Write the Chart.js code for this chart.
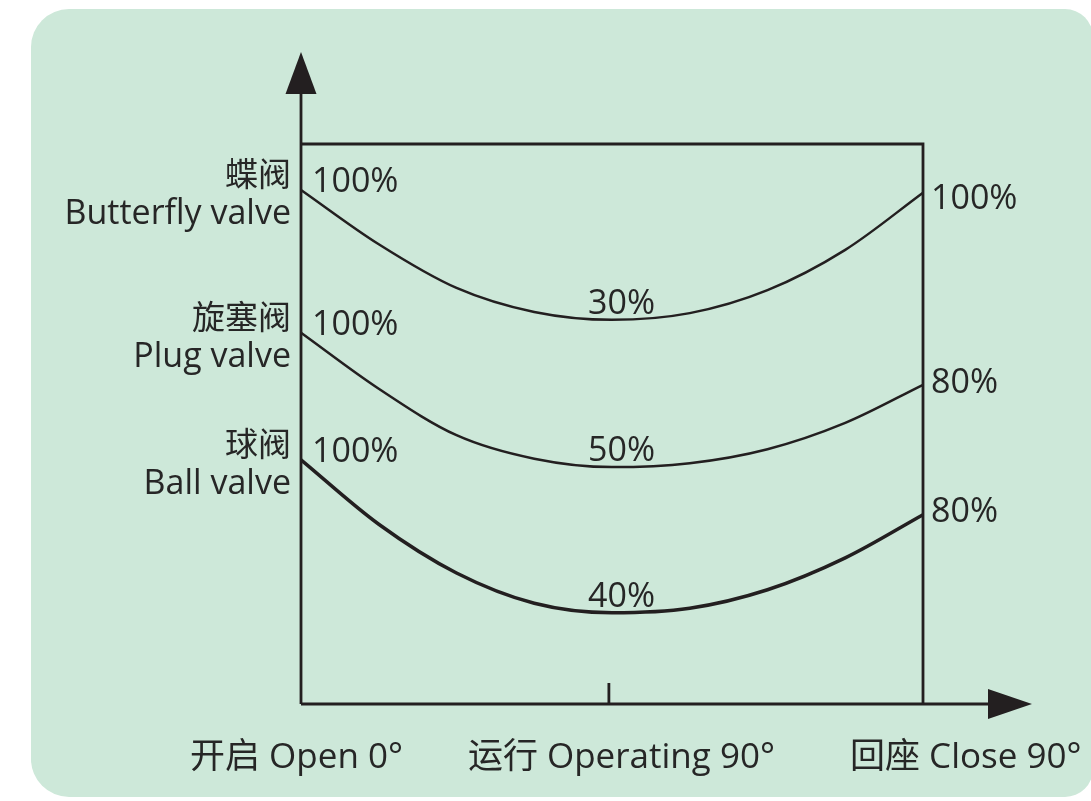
<!DOCTYPE html>
<html>
<head>
<meta charset="utf-8">
<script src="https://cdn.jsdelivr.net/npm/chart.js@4"></script>
<style>
  html, body { margin: 0; padding: 0; background: #ffffff; overflow: hidden; }
  #panel {
    position: absolute; left: 31px; top: 9px; width: 1062px; height: 788px;
    background: #cde8d9; border-radius: 38px 28px 28px 38px;
  }
  #chart { position: absolute; left: 0; top: 0; }
</style>
</head>
<body>
<div id="panel"></div>
<canvas id="chart" width="1091" height="801"></canvas>
<script>
// stroke position, % of travel (open -> close)
const positions = [0, 12.5, 25, 37.5, 50, 62.5, 75, 87.5, 100];

// curve heights (0 = x axis, 100 = top of frame)
const butterfly = [91.8, 82.1, 74.3, 70.0, 68.6, 69.8, 73.9, 81.1, 91.3];
const plug      = [66.3, 56.3, 48.0, 43.8, 42.3, 43.0, 45.5, 50.2, 57.0];
const ball      = [43.6, 32.1, 23.4, 18.0, 16.3, 17.1, 20.4, 26.1, 33.8];

const valveNames = [["蝶阀", "Butterfly valve"], ["旋塞阀", "Plug valve"], ["球阀", "Ball valve"]];
const startLabels = ["100%", "100%", "100%"];
const midLabels = ["30%", "50%", "40%"];
const endLabels = ["100%", "80%", "80%"];
const stageLabels = ["开启 Open 0°", "运行 Operating 90°", "回座 Close 90°"];
const operatingTick = 49.5;

const INK = "#231f20";
const FONT = "'Open Sans', 'Noto Sans CJK SC', sans-serif";
const endLabelDrop = [16, 8, 7];

function toPoints(values) {
    return values.map((v, i) => ({ x: positions[i], y: v }));
}

const frame = {
    id: "frame",
    afterDatasetsDraw(chart) {
        const { ctx, chartArea: a, scales } = chart;
        const x = scales.x, y = scales.y;
        ctx.save();
        ctx.strokeStyle = INK;
        ctx.fillStyle = INK;
        ctx.lineWidth = 2.8;

        // box top + right
        ctx.beginPath();
        ctx.moveTo(a.left, a.top);
        ctx.lineTo(a.right, a.top);
        ctx.lineTo(a.right, a.bottom);
        ctx.stroke();

        // y axis with arrow
        ctx.beginPath();
        ctx.moveTo(a.left, a.bottom);
        ctx.lineTo(a.left, a.top - 50);
        ctx.stroke();
        ctx.beginPath();
        ctx.moveTo(a.left, a.top - 92);
        ctx.lineTo(a.left - 15.5, a.top - 50);
        ctx.lineTo(a.left + 15.5, a.top - 50);
        ctx.closePath();
        ctx.fill();

        // x axis with arrow
        ctx.beginPath();
        ctx.moveTo(a.left, a.bottom);
        ctx.lineTo(a.right + 66, a.bottom);
        ctx.stroke();
        ctx.beginPath();
        ctx.moveTo(a.right + 109, a.bottom);
        ctx.lineTo(a.right + 65, a.bottom - 15);
        ctx.lineTo(a.right + 65, a.bottom + 15);
        ctx.closePath();
        ctx.fill();

        // operating tick
        const tx = x.getPixelForValue(operatingTick);
        ctx.beginPath();
        ctx.moveTo(tx, a.bottom);
        ctx.lineTo(tx, a.bottom - 21);
        ctx.stroke();

        // labels
        const series = [butterfly, plug, ball];
        ctx.fillStyle = "#262626";
        ctx.textBaseline = "alphabetic";
        series.forEach((s, i) => {
            const y0 = y.getPixelForValue(s[0]);
            const yEnd = y.getPixelForValue(s[s.length - 1]);
            const mid = s.indexOf(Math.min(...s));
            const yMid = y.getPixelForValue(s[mid]);

            ctx.textAlign = "right";
            ctx.font = "33px " + FONT;
            ctx.fillText(valveNames[i][0], a.left - 10, y0 - 4);
            ctx.font = "34px " + FONT;
            ctx.fillText(valveNames[i][1], a.left - 10, y0 + 34);

            ctx.textAlign = "left";
            ctx.font = "34px " + FONT;
            ctx.fillText(startLabels[i], a.left + 11, y0 + 2);
            ctx.fillText(midLabels[i], x.getPixelForValue(positions[mid]) - 24, yMid - 6);
            ctx.fillText(endLabels[i], a.right + 8, yEnd + endLabelDrop[i]);
        });

        ctx.font = "35px " + FONT;
        ctx.textAlign = "left";
        ctx.fillText(stageLabels[0], a.left - 111, a.bottom + 64);
        ctx.fillText(stageLabels[1], tx - 141, a.bottom + 64);
        ctx.fillText(stageLabels[2], a.right - 73, a.bottom + 64);
        ctx.restore();
    }
};

new Chart(document.getElementById("chart"), {
    type: "line",
    data: {
        datasets: [
            { label: "Butterfly valve", data: toPoints(butterfly), borderWidth: 2.5 },
            { label: "Plug valve", data: toPoints(plug), borderWidth: 2.5 },
            { label: "Ball valve", data: toPoints(ball), borderWidth: 3.5 }
        ].map(d => Object.assign(d, {
            borderColor: INK,
            pointRadius: 0,
            tension: 0.4,
            cubicInterpolationMode: "monotone",
            fill: false,
            clip: false
        }))
    },
    options: {
        responsive: false,
        animation: false,
        events: [],
        layout: { padding: { left: 301, top: 144, right: 168, bottom: 97 } },
        scales: {
            x: { type: "linear", min: 0, max: 100, display: false },
            y: { type: "linear", min: 0, max: 100, display: false }
        },
        plugins: {
            legend: { display: false },
            tooltip: { enabled: false }
        }
    },
    plugins: [frame]
});
</script>
</body>
</html>
